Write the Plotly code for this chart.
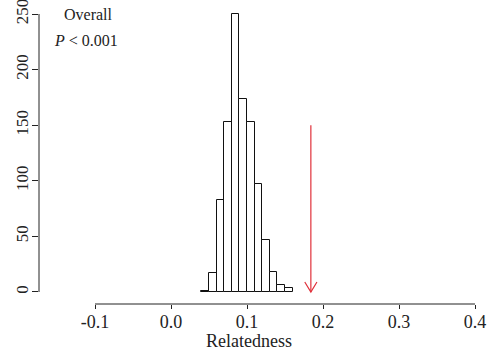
import plotly.graph_objects as go

# Histogram bins (left edges) and counts
bin_left = [0.04, 0.05, 0.06, 0.07, 0.08, 0.09, 0.10, 0.11, 0.12, 0.13, 0.14, 0.15]
counts = [1, 17, 83, 153, 250, 174, 153, 97, 47, 18, 6, 4]
bin_width = 0.01

# Observed relatedness arrow
obs_x = 0.184
arrow_top = 150
arrow_tip = 0

x_ticks = [-0.1, 0.0, 0.1, 0.2, 0.3, 0.4]
x_ticklabels = ["-0.1", "0.0", "0.1", "0.2", "0.3", "0.4"]
y_ticks = [0, 50, 100, 150, 200, 250]

FONT = "Liberation Serif"
INK = "#222222"

fig = go.Figure()
fig.add_trace(go.Bar(
    x=[b + bin_width / 2 for b in bin_left],
    y=counts,
    width=bin_width,
    marker=dict(color="white", line=dict(color="#111111", width=1)),
    showlegend=False,
))

# arrow shaft
fig.add_trace(go.Scatter(
    x=[obs_x, obs_x], y=[arrow_top, arrow_tip], mode="lines",
    line=dict(color="#e0303a", width=1.2), showlegend=False,
))
# arrow head (open V)
hx, hy = 0.008, 9
fig.add_trace(go.Scatter(
    x=[obs_x - hx, obs_x, obs_x + hx], y=[arrow_tip + hy, arrow_tip, arrow_tip + hy],
    mode="lines", line=dict(color="#e0303a", width=1.2), showlegend=False,
))

# detached R-style axis lines
fig.add_shape(type="line", xref="paper", yref="y", x0=0, x1=0,
              y0=y_ticks[0], y1=y_ticks[-1], line=dict(color=INK, width=1))
fig.add_shape(type="line", xref="x", yref="paper", x0=x_ticks[0], x1=x_ticks[-1],
              y0=0, y1=0, line=dict(color=INK, width=1))

fig.add_annotation(xref="paper", yref="paper", x=(88 - 39) / 451, y=1,
                   xanchor="center", yanchor="middle", yshift=-11, showarrow=False,
                   text="Overall",
                   font=dict(family=FONT, size=16, color=INK))
fig.add_annotation(xref="paper", yref="paper", x=(86 - 39) / 451, y=1,
                   xanchor="center", yanchor="middle", yshift=-37, showarrow=False,
                   text="<i>P</i> &lt; 0.001",
                   font=dict(family=FONT, size=16, color=INK))

fig.add_annotation(xref="x", yref="paper", x=0.1026, y=0, xanchor="center",
                   yanchor="middle", yshift=-37, showarrow=False, text="Relatedness",
                   font=dict(family=FONT, size=18, color=INK))

fig.update_layout(
    width=493, height=357,
    margin=dict(l=39, r=3, t=3, b=53, autoexpand=False),
    paper_bgcolor="white", plot_bgcolor="white",
    bargap=0,
    xaxis=dict(range=[-0.1737, 0.4197], tickvals=x_ticks, ticktext=x_ticklabels,
               automargin=False, ticklabeloverflow="allow",
               showgrid=False, zeroline=False, showline=False,
               ticks="outside", ticklen=4, tickcolor=INK, tickwidth=1,
               ticklabelstandoff=-3,
               tickfont=dict(family=FONT, size=18, color=INK)),
    yaxis=dict(range=[-10.8, 259.9], tickvals=y_ticks,
               automargin=False, ticklabeloverflow="allow",
               showgrid=False, zeroline=False, showline=False,
               ticks="outside", ticklen=6, tickcolor=INK, tickwidth=1,
               tickangle=-90, ticklabelstandoff=-3,
               tickfont=dict(family=FONT, size=17, color=INK)),
)

fig.write_html("out.html")
